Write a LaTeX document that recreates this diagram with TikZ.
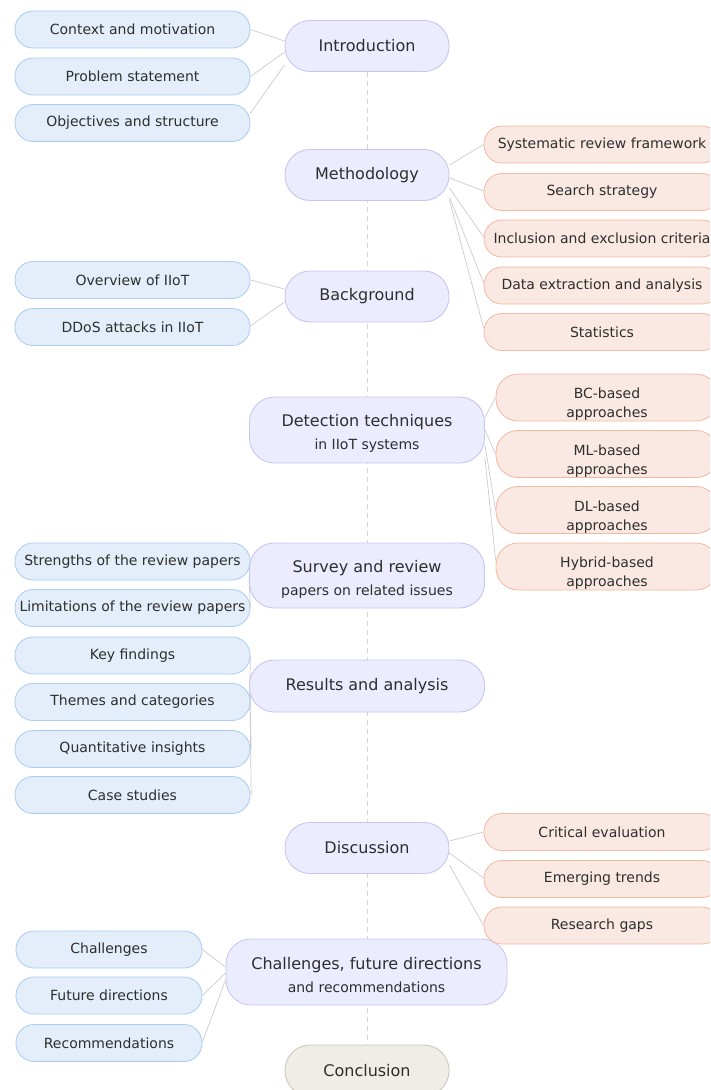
\documentclass[tikz,border=0pt]{standalone}
\usepackage{fontspec}
\setmainfont{DejaVu Sans}
\usetikzlibrary{calc,backgrounds}

\definecolor{mainfill}{HTML}{ECECFF}
\definecolor{mainline}{HTML}{C9C5F2}
\definecolor{leftfill}{HTML}{E3EEFA}
\definecolor{leftline}{HTML}{A9CCF0}
\definecolor{rightfill}{HTML}{FAE9E3}
\definecolor{rightline}{HTML}{F3B7A2}
\definecolor{endfill}{HTML}{F0EDE6}
\definecolor{endline}{HTML}{CEC8BE}
\definecolor{linkgray}{HTML}{CBCBCB}
\definecolor{spine}{HTML}{D6D6D6}
\definecolor{txt}{HTML}{2E2E2E}

\newcommand{\toplift}[1]{\rule{0pt}{#1}}

\tikzset{
  topic/.style={draw=mainline, fill=mainfill, line width=0.9pt, rounded corners=25pt,
    minimum width=164pt, minimum height=51pt, inner sep=0pt, text=txt, align=center,
    font=\fontsize{16}{24}\selectfont},
  wide/.style={minimum width=235pt, minimum height=66pt},
  leftitem/.style={draw=leftline, fill=leftfill, line width=0.8pt, rounded corners=18pt,
    minimum width=235pt, minimum height=37pt, inner sep=0pt, text=txt, align=center,
    font=\fontsize{14}{19}\selectfont},
  rightitem/.style={leftitem, draw=rightline, fill=rightfill, minimum width=236pt},
  tallitem/.style={rightitem, minimum width=222pt, minimum height=47pt, rounded corners=22pt},
  closing/.style={topic, draw=endline, fill=endfill},
  link/.style={draw=linkgray, line width=0.7pt}
}

\begin{document}
\begin{tikzpicture}[x=1pt, y=-1pt]
\useasboundingbox (0,0) rectangle (710,1090);
\clip (0,0) rectangle (710,1090);

% central topics
\node[topic] (intro) at (367,46) {Introduction};
\node[topic] (method) at (367,175) {Methodology};
\node[topic] (backg) at (367,296.5) {Background};
\node[topic, wide] (detect) at (367,430) {\toplift{19pt}Detection techniques\\[-1pt]{\fontsize{14}{24}\selectfont in IIoT systems}};
\node[topic, wide, minimum height=65pt] (survey) at (367,575.5) {\toplift{19pt}Survey and review\\[-1pt]{\fontsize{14}{24}\selectfont papers on related issues}};
\node[topic, minimum width=235pt, minimum height=52pt] (results) at (367,686) {Results and analysis};
\node[topic] (discuss) at (367,848) {Discussion};
\node[topic, wide, minimum width=281pt] (future) at (366.5,972) {\toplift{19pt}Challenges, future directions\\[-1pt]{\fontsize{14}{24}\selectfont and recommendations}};
\node[closing] (concl) at (367,1070.5) {Conclusion};

% introduction items
\node[leftitem] (ctx) at (132.5,29.5) {Context and motivation};
\node[leftitem] (prob) at (132.5,76.5) {Problem statement};
\node[leftitem] (obj) at (132.5,123) {Objectives and structure};

% methodology items
\node[rightitem] (sys) at (602,144.5) {Systematic review framework};
\node[rightitem] (search) at (602,192) {Search strategy};
\node[rightitem] (incl) at (602,238.5) {Inclusion and exclusion criteria};
\node[rightitem] (data) at (602,285.5) {Data extraction and analysis};
\node[rightitem] (stat) at (602,332) {Statistics};

% background items
\node[leftitem] (over) at (132.5,280) {Overview of IIoT};
\node[leftitem] (ddos) at (132.5,327) {DDoS attacks in IIoT};

% detection items
\node[tallitem] (bc) at (607,397.5) {\toplift{24pt}BC-based\\approaches};
\node[tallitem] (ml) at (607,454) {\toplift{24pt}ML-based\\approaches};
\node[tallitem] (dl) at (607,510) {\toplift{24pt}DL-based\\approaches};
\node[tallitem] (hyb) at (607,566.5) {\toplift{24pt}Hybrid-based\\approaches};

% survey items
\node[leftitem] (str) at (132.5,561.5) {Strengths of the review papers};
\node[leftitem] (lim) at (132.5,608) {Limitations of the review papers};

% results items
\node[leftitem] (key) at (132.5,655.5) {Key findings};
\node[leftitem] (themes) at (132.5,702) {Themes and categories};
\node[leftitem] (quant) at (132.5,749) {Quantitative insights};
\node[leftitem] (cases) at (132.5,795) {Case studies};

% discussion items
\node[rightitem] (crit) at (602,832) {Critical evaluation};
\node[rightitem] (trend) at (602,879) {Emerging trends};
\node[rightitem] (gaps) at (602,925.5) {Research gaps};

% closing-section items
\node[leftitem, minimum width=186pt] (chal) at (109,949.5) {Challenges};
\node[leftitem, minimum width=186pt] (fdir) at (109,995.5) {Future directions};
\node[leftitem, minimum width=186pt] (rec) at (109,1043) {Recommendations};

\begin{scope}[on background layer]
  % spine through the sections
  \draw[spine, line width=0.8pt, dash pattern=on 5pt off 4pt] (intro.south) -- (concl.north);

  \draw[link] (ctx.east) -- ($(intro.west)+(0,-5)$);
  \draw[link] (prob.east) -- ($(intro.west)+(0,6)$);
  \draw[link] ($(obj.east)+(0,-10)$) -- ($(intro.west)+(0,19)$);

  \draw[link] ($(method.east)+(0,-10)$) -- (sys.west);
  \draw[link] ($(method.east)+(0,3)$) -- ($(search.west)+(0,-1)$);
  \draw[link] ($(method.east)+(0,13)$) -- ($(incl.west)+(0,-1.5)$);
  \draw[link] ($(method.east)+(0,22)$) -- ($(data.west)+(0,-2.5)$);
  \draw[link] ($(method.east)+(0,25)$) -- ($(stat.west)+(0,-4)$);

  \draw[link] (over.east) -- ($(backg.west)+(0,-7.5)$);
  \draw[link] ($(ddos.east)+(0,-1)$) -- ($(backg.west)+(0,5.5)$);

  \draw[link] ($(detect.east)+(0,-13)$) -- (bc.west);
  \draw[link] (detect.east) -- (ml.west);
  \draw[link] ($(detect.east)+(0,15)$) -- (dl.west);
  \draw[link] ($(detect.east)+(0,28)$) -- ($(hyb.west)+(0,-6)$);

  \draw[link] (str.east) -- ($(survey.west)+(0,-2)$);
  \draw[link] (lim.east) -- ($(survey.west)+(0,2)$);

  \draw[link] (key.east) -- ($(results.west)+(0.8,0)$);
  \draw[link] (themes.east) -- ($(results.west)+(0.8,2)$);
  \draw[link] ($(quant.east)+(0.8,0)$) -- ($(results.west)+(0.8,4)$);
  \draw[link] ($(cases.east)+(0.8,0)$) -- ($(results.west)+(0.8,6)$);

  \draw[link] ($(discuss.east)+(0,-7)$) -- (crit.west);
  \draw[link] ($(discuss.east)+(0,5)$) -- ($(trend.west)+(0,-1)$);
  \draw[link] ($(discuss.east)+(0,17)$) -- (gaps.west);

  \draw[link] (chal.east) -- ($(future.west)+(0,-5)$);
  \draw[link] (fdir.east) -- ($(future.west)+(0,1)$);
  \draw[link] ($(rec.east)+(0,-1)$) -- ($(future.west)+(0,8)$);
\end{scope}
\end{tikzpicture}
\end{document}
